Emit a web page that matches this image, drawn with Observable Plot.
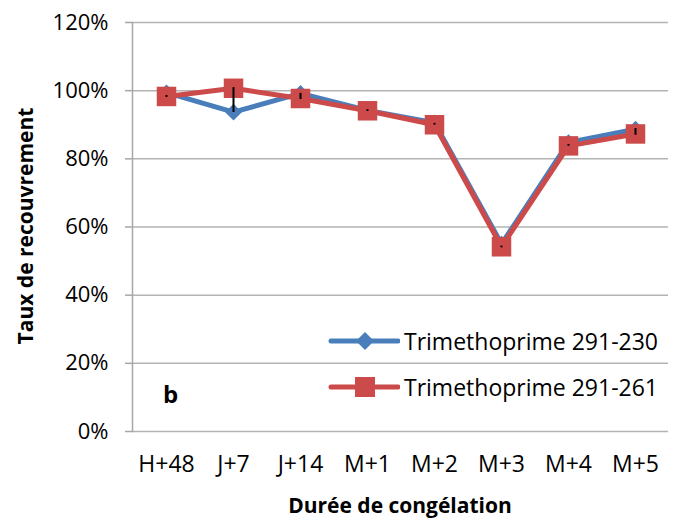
<!DOCTYPE html>
<html>
<head>
<meta charset="utf-8">
<script src="https://cdn.jsdelivr.net/npm/d3@7"></script>
<script src="https://cdn.jsdelivr.net/npm/@observablehq/plot@0.6"></script>
<style>
  html, body { margin: 0; padding: 0; background: #fff; }
  #wrap { position: relative; width: 674px; height: 520px; font-family: "Open Sans", "Liberation Sans", sans-serif; color: #000; }
  #wrap > svg { position: absolute; left: 0; top: 0; }
  .ytitle { position: absolute; left: 25px; top: 226px; transform: translate(-50%, -50%) rotate(-90deg); font-weight: bold; font-size: 21px; white-space: nowrap; }
  .xtitle { position: absolute; left: 400px; top: 505px; transform: translate(-50%, -50%); font-weight: bold; font-size: 21px; white-space: nowrap; }
  .legend { position: absolute; left: 328px; top: 326px; font-size: 23px; }
  .legend .row { display: flex; align-items: center; height: 30px; margin-bottom: 16px; }
  .legend .row svg { display: block; margin-right: 4px; }
</style>
</head>
<body>
<div id="wrap"></div>
<script>
const categories = ["H+48", "J+7", "J+14", "M+1", "M+2", "M+3", "M+4", "M+5"];
const series230 = [0.994, 0.937, 0.992, 0.942, 0.906, 0.550, 0.848, 0.887];
const series261 = [0.983, 1.007, 0.977, 0.941, 0.900, 0.542, 0.838, 0.873];
const errLow  = [0.980, 0.936, 0.974, 0.939, 0.899, 0.539, 0.837, 0.869];
const errHigh = [0.986, 1.009, 0.992, 0.944, 0.904, 0.544, 0.842, 0.889];
const yTicks = [0, 0.2, 0.4, 0.6, 0.8, 1.0, 1.2];
const seriesNames = ["Trimethoprime 291-230", "Trimethoprime 291-261"];
const colors = ["#4a7ebb", "#cc4a4a"];
const panelLabel = "b";
const xTitle = "Durée de congélation";
const yTitle = "Taux de recouvrement";

const d230 = categories.map((c, i) => ({cat: c, v: series230[i]}));
const d261 = categories.map((c, i) => ({cat: c, v: series261[i]}));
const dErr = categories.map((c, i) => ({cat: c, lo: errLow[i], hi: errHigh[i]}));

const chart = Plot.plot({
  width: 674,
  height: 520,
  marginLeft: 132,
  marginRight: 6,
  marginTop: 22,
  marginBottom: 89,
  style: {fontFamily: '"Open Sans", "Liberation Sans", sans-serif', fontSize: "22px", color: "#000", background: "#fff"},
  x: {type: "point", domain: categories, padding: 0.5, label: null},
  y: {domain: [0, 1.2], label: null},
  marks: [
    Plot.ruleY(yTicks, {stroke: "#b3b3b3", strokeWidth: 1.5}),
    Plot.frame({anchor: "left", stroke: "#a6a6a6", strokeWidth: 1.5}),
    Plot.axisY({ticks: yTicks, tickFormat: d3.format(".0%"), tickSize: 7, tickPadding: 17, stroke: "#a6a6a6", strokeWidth: 1.5, fontSize: 22, label: null}),
    Plot.axisX({tickSize: 0, tickPadding: 24, fontSize: 23, label: null}),
    Plot.line(d230, {x: "cat", y: "v", stroke: colors[0], strokeWidth: 5}),
    Plot.dot(d230, {x: "cat", y: "v", symbol: "diamond2", r: 7.5, fill: colors[0], stroke: "none"}),
    Plot.line(d261, {x: "cat", y: "v", stroke: colors[1], strokeWidth: 5}),
    Plot.dot(d261, {x: "cat", y: "v", symbol: "square", r: 11, fill: colors[1], stroke: "none"}),
    Plot.ruleX(dErr, {x: "cat", y1: "lo", y2: "hi", stroke: "#000", strokeWidth: 2}),
    Plot.text([panelLabel], {frameAnchor: "bottom-left", dx: 38, dy: -29, fontWeight: "bold", fontSize: 24, textAnchor: "middle"})
  ]
});

const wrap = document.getElementById("wrap");
wrap.appendChild(chart);

const yt = document.createElement("div");
yt.className = "ytitle"; yt.textContent = yTitle; wrap.appendChild(yt);
const xt = document.createElement("div");
xt.className = "xtitle"; xt.textContent = xTitle; wrap.appendChild(xt);

const legend = document.createElement("div");
legend.className = "legend";
seriesNames.forEach((name, i) => {
  const row = document.createElement("div");
  row.className = "row";
  const sym = i === 0
    ? `<path d="M37,6 L46,15 L37,24 L28,15 Z" fill="${colors[0]}"/>`
    : `<rect x="27" y="5" width="20" height="20" fill="${colors[1]}"/>`;
  row.innerHTML = `<svg width="72" height="30"><line x1="3" x2="70" y1="15" y2="15" stroke="${colors[i]}" stroke-width="5" stroke-linecap="round"/>${sym}</svg><span>${name}</span>`;
  legend.appendChild(row);
});
wrap.appendChild(legend);
</script>
</body>
</html>
